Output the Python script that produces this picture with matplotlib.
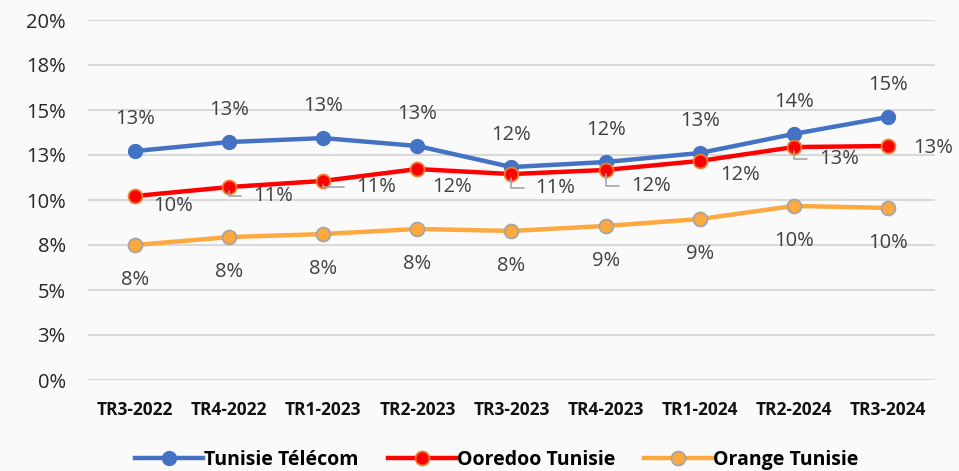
import matplotlib.pyplot as plt

plt.rcParams['font.family'] = ['Open Sans', 'DejaVu Sans']

quarters = ['TR3-2022', 'TR4-2022', 'TR1-2023', 'TR2-2023', 'TR3-2023',
            'TR4-2023', 'TR1-2024', 'TR2-2024', 'TR3-2024']
telecom = [0.1272, 0.1322, 0.1344, 0.1300, 0.1183, 0.1211, 0.1261, 0.1367, 0.1461]
ooredoo = [0.1022, 0.1072, 0.1106, 0.1172, 0.1144, 0.1167, 0.1217, 0.1294, 0.1300]
orange = [0.0750, 0.0794, 0.0811, 0.0839, 0.0828, 0.0856, 0.0894, 0.0967, 0.0956]
telecom_lbl = ['13%', '13%', '13%', '13%', '12%', '12%', '13%', '14%', '15%']
ooredoo_lbl = ['10%', '11%', '11%', '12%', '11%', '12%', '12%', '13%', '13%']
orange_lbl = ['8%', '8%', '8%', '8%', '8%', '9%', '9%', '10%', '10%']
yticks = [0, 0.025, 0.05, 0.075, 0.10, 0.125, 0.15, 0.175, 0.20]
ytick_lbl = ['0%', '3%', '5%', '8%', '10%', '13%', '15%', '18%', '20%']

# label offsets for ooredoo (pixels) and whether a leader line is drawn
oo_off = [(38, -10), (44, -9), (53, -6), (35, -18), (44, -14), (45, -16), (40, -14), (45, -12), (45, -2)]
oo_leader = [False, True, True, False, True, True, False, True, False]

fig = plt.figure(figsize=(9.59, 4.71), dpi=100)
fig.patch.set_facecolor('#fafafa')
ax = fig.add_axes([88 / 959, 1 - 380 / 471, (935 - 88) / 959, 360 / 471])
ax.set_facecolor('#fafafa')

x = list(range(len(quarters)))
ax.plot(x, telecom, color='#4472C4', lw=3.2, marker='o', ms=10,
        mfc='#4472C4', mec='#4472C4', label='Tunisie Télécom', zorder=3)
ax.plot(x, ooredoo, color='#FF0000', lw=3.2, marker='o', ms=10,
        mfc='#FF0000', mec='#ED7D31', mew=1.3, label='Ooredoo Tunisie', zorder=3)
ax.plot(x, orange, color='#FDA940', lw=3.2, marker='o', ms=10,
        mfc='#FDA940', mec='#A5A5A5', mew=1.3, label='Orange Tunisie', zorder=3)

lblc = '#404040'
fs = 14.5
for i in x:
    ax.annotate(telecom_lbl[i], (i, telecom[i]), xytext=(0, 32), textcoords='offset pixels',
                ha='center', va='center', fontsize=fs, color=lblc)
    ax.annotate(orange_lbl[i], (i, orange[i]), xytext=(0, -35), textcoords='offset pixels',
                ha='center', va='center', fontsize=fs, color=lblc)
    dx, dy = oo_off[i]
    ax.annotate(ooredoo_lbl[i], (i, ooredoo[i]), xytext=(dx, dy), textcoords='offset pixels',
                ha='center', va='center', fontsize=fs, color=lblc)
    if oo_leader[i]:
        ax.annotate('', (i, ooredoo[i]), xytext=(dx - 32, dy), textcoords='offset pixels',
                    arrowprops=dict(arrowstyle='-', color='#A5A5A5', lw=1.2,
                                    connectionstyle='angle,angleA=0,angleB=90,rad=0',
                                    shrinkA=0, shrinkB=3))

ax.set_xlim(-0.5, len(quarters) - 0.5)
ax.set_ylim(0, 0.2)
ax.set_yticks(yticks)
ax.set_yticklabels(ytick_lbl, fontsize=14.5, color='#262626')
ax.set_xticks(x)
ax.set_xticklabels(quarters, fontsize=12.5, fontweight='bold', color='#111111')
ax.tick_params(length=0, axis='y', pad=16)
ax.tick_params(length=0, axis='x', pad=15)
ax.grid(axis='y', color='#D9D9D9', lw=1.5)
ax.set_axisbelow(True)
for s in ax.spines.values():
    s.set_visible(False)

leg = fig.legend(loc='center', bbox_to_anchor=(0.518, 1 - 460 / 471), ncol=3, frameon=False,
                 prop={'weight': 'bold', 'size': 14}, handlelength=3.5, columnspacing=1.5,
                 handletextpad=0.05)

fig.savefig('out.png', dpi=100, facecolor=fig.get_facecolor())
